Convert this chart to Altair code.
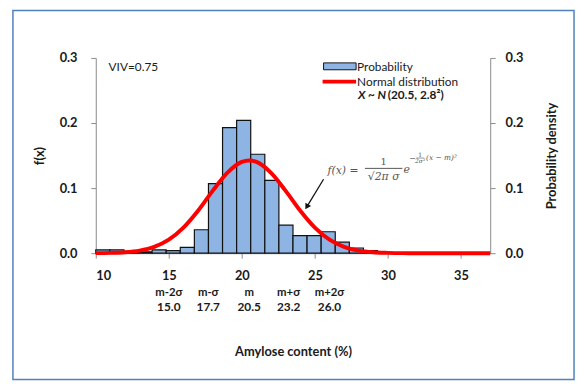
import altair as alt
import pandas as pd

# ---------------- data ----------------
bin_labels = [str(v) for v in range(10, 38)]          # 28 histogram classes
probability = [0.005, 0.005, 0.003, 0.002, 0.005, 0.004, 0.009, 0.036,
               0.107, 0.193, 0.204, 0.152, 0.112, 0.043, 0.027, 0.027,
               0.033, 0.017, 0.008, 0.004, 0.001, 0.0, 0.0, 0.0,
               0.0, 0.0, 0.0, 0.0]

curve_x = [10, 11, 12, 13, 14, 15, 16, 17, 18, 19, 20, 20.5, 21, 22, 23, 24,
           25, 26, 27, 28, 29, 30, 31, 32, 33, 34, 35, 36, 37]
curve_y = [0.0001, 0.0005, 0.0014, 0.0039, 0.0096, 0.0207, 0.0392, 0.0652,
           0.0957, 0.1234, 0.1402, 0.1425, 0.1402, 0.1234, 0.0957, 0.0652,
           0.0392, 0.0207, 0.0096, 0.0039, 0.0014, 0.0005, 0.0001, 0.0,
           0.0, 0.0, 0.0, 0.0, 0.0]

x_ticks = [10, 15, 20, 25, 30, 35]
y_ticks = [0.0, 0.1, 0.2, 0.3]

sigma_names = ["m-2σ", "m-σ", "m", "m+σ", "m+2σ"]
sigma_values = [15.0, 17.7, 20.5, 23.2, 26.0]

FONT = "Lato"
TXT = "#1a1a1a"
AX = "#8a8a8a"

hist_df = pd.DataFrame({"bin": bin_labels, "p": probability})
curve_df = pd.DataFrame({"x": curve_x, "y": curve_y})
sigma_df = pd.DataFrame({"name": sigma_names, "v": sigma_values,
                         "lab": [f"{v:.1f}" for v in sigma_values]})
one = pd.DataFrame({"a": [0]})

xlin = alt.Scale(domain=[10, 37], nice=False, zero=False)
ylin = alt.Scale(domain=[0, 0.3], nice=False, zero=False)

bars = alt.Chart(hist_df).mark_bar(
    color="#8DB4E2", stroke="#111111", strokeWidth=1.2
).encode(
    x=alt.X("bin:O", sort=None, axis=None,
            scale=alt.Scale(paddingInner=0, paddingOuter=0)),
    y=alt.Y("p:Q", scale=ylin,
            axis=alt.Axis(orient="left", values=y_ticks, format=".1f",
                          title="f(x)", titlePadding=13, labelPadding=14,
                          tickSize=5)),
)

line = alt.Chart(curve_df).mark_line(
    color="#FF0000", strokeWidth=4, interpolate="monotone"
).encode(
    x=alt.X("x:Q", scale=xlin,
            axis=alt.Axis(orient="bottom", values=x_ticks, format="d",
                          title="Amylose content (%)", titlePadding=64,
                          labelPadding=12, tickSize=5)),
    y=alt.Y("y:Q", scale=ylin,
            axis=alt.Axis(orient="right", values=y_ticks, format=".1f",
                          title="Probability density", titleAngle=270,
                          titlePadding=36, labelPadding=10, tickSize=5)),
)

sig_names = alt.Chart(sigma_df).mark_text(
    font=FONT, fontSize=11.5, fontWeight="bold", color=TXT, baseline="middle"
).encode(x=alt.X("v:Q", scale=xlin, axis=None), y=alt.value(238),
         text="name:N")
sig_vals = alt.Chart(sigma_df).mark_text(
    font=FONT, fontSize=12, fontWeight="bold", color=TXT, baseline="middle"
).encode(x=alt.X("v:Q", scale=xlin, axis=None), y=alt.value(253),
         text="lab:N")


def label(txt, x, y, **kw):
    opts = dict(font=FONT, fontSize=12, color=TXT, align="left",
                baseline="middle")
    opts.update(kw)
    return alt.Chart(one).mark_text(text=txt, **opts).encode(
        x=alt.value(x), y=alt.value(y))


border = alt.Chart(one).mark_rect(
    fillOpacity=0, stroke="#4F81BD", strokeWidth=1.5
).encode(x=alt.value(-84), x2=alt.value(485), y=alt.value(-48),
         y2=alt.value(326))

viv = label("VIV=0.75", 13, 9)
leg_rect = alt.Chart(one).mark_rect(
    color="#8DB4E2", stroke="#111111", strokeWidth=1
).encode(x=alt.value(231), x2=alt.value(264), y=alt.value(5),
         y2=alt.value(12))
leg_prob = label("Probability", 265, 9)
leg_line = alt.Chart(one).mark_rule(color="#FF0000", strokeWidth=4).encode(
    x=alt.value(230), x2=alt.value(264), y=alt.value(24))
leg_norm = label("Normal distribution", 265, 24)
leg_x = label("X ~ N", 266, 38, fontWeight="bold", fontStyle="italic")
leg_params = label("(20.5, 2.8²)", 296, 38, fontWeight="bold")

SERIF = "DejaVu Serif"
FC = "#555555"
f_lhs = label("f(x) =", 235, 115, font=SERIF, fontSize=11, color=FC,
              fontStyle="italic")
f_num = label("1", 292, 106, font=SERIF, fontSize=10, color=FC,
              align="center")
f_bar = alt.Chart(one).mark_rule(color=FC, strokeWidth=1).encode(
    x=alt.value(273), x2=alt.value(311), y=alt.value(112))
f_den = label("√2π σ", 292, 121, font=SERIF, fontSize=11, color=FC,
              align="center", fontStyle="italic")
f_e = label("e", 312, 114, font=SERIF, fontSize=11, color=FC,
            fontStyle="italic")
f_minus = label("−", 318, 102, font=SERIF, fontSize=8, color=FC)
f_en = label("1", 329, 98, font=SERIF, fontSize=6, color=FC, align="center")
f_ebar = alt.Chart(one).mark_rule(color=FC, strokeWidth=0.6).encode(
    x=alt.value(325), x2=alt.value(333), y=alt.value(101.5))
f_ed = label("2σ²", 329, 105, font=SERIF, fontSize=6, color=FC,
             align="center", fontStyle="italic")
f_exp = label("(x − m)²", 335, 101, font=SERIF, fontSize=7.5, color=FC,
              fontStyle="italic")

arrow = alt.Chart(one).mark_rule(color="#111111", strokeWidth=1.3).encode(
    x=alt.value(231), y=alt.value(123), x2=alt.value(214), y2=alt.value(151))
arrow_head = alt.Chart(one).mark_point(
    shape="triangle-up", filled=True, color="#111111", size=45, angle=211,
    opacity=1
).encode(x=alt.value(214), y=alt.value(151))

chart = alt.layer(
    border, bars, line, sig_names, sig_vals, viv, leg_rect, leg_prob,
    leg_line, leg_norm, leg_x, leg_params, f_lhs, f_num, f_bar, f_den, f_e,
    f_minus, f_en, f_ebar, f_ed, f_exp, arrow, arrow_head
).resolve_scale(
    x="independent", y="independent"
).properties(
    width=400, height=198,
    padding={"left": 89, "top": 48, "right": 87, "bottom": 130},
    autosize=alt.AutoSizeParams(type="none"),
).configure_view(
    stroke=None
).configure_axis(
    grid=False, domainColor=AX, tickColor=AX, labelFont=FONT,
    titleFont=FONT, labelFontSize=13, titleFontSize=13,
    labelFontWeight="bold", titleFontWeight="bold", labelColor=TXT,
    titleColor=TXT,
)

chart.save("out.html", embed_options={"renderer": "svg", "actions": False})
